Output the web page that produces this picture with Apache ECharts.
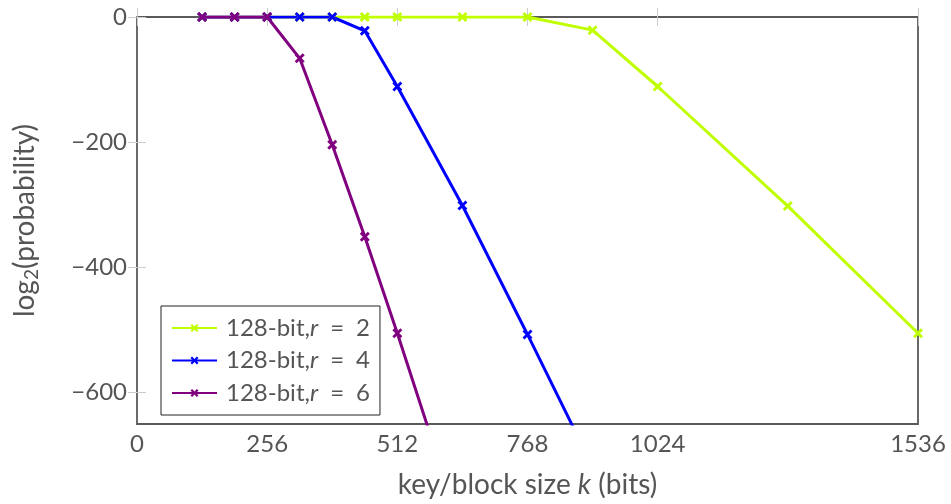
<!DOCTYPE html>
<html><head><meta charset="utf-8">
<script src="https://cdn.jsdelivr.net/npm/echarts@6/dist/echarts.min.js"></script>
<style>html,body{margin:0;padding:0;background:#fff}#c{width:951px;height:504px}</style>
</head><body><div id="c"></div>
<script>
// ---- data ----
const r2X = [128,192,256,320,384,448,512,640,768,896,1024,1280,1536];
const r2Y = [0,0,0,0,0,0,0,0,0,-21,-111,-302,-505];
const r4X = [128,192,256,320,384,448,512,640,768,896];
const r4Y = [0,0,0,0,0,-22,-111,-301,-507,-718];
const r6X = [128,192,256,320,384,448,512,576];
const r6Y = [0,0,0,-66,-204,-351,-505,-665];
const seriesNames = ['128-bit, r = 2','128-bit, r = 4','128-bit, r = 6'];
const xTicks = [0,256,512,768,1024,1536];
const yTicks = [0,-200,-400,-600];

const pair = (xs, ys) => xs.map((x,i)=>[x, ys[i]]);
const TXT = '#555555';
const FONT = 'Lato';
const crossPath = 'path://M0,2 L2,0 L5,3 L8,0 L10,2 L7,5 L10,8 L8,10 L5,7 L2,10 L0,8 L3,5 Z';
const colors = ['#bfff00','#0000ff','#800080'];
const fmtMinus = v => String(v).replace('-', '\u2212');

const mk = (name, data, color) => ({
  name, type:'line', data, symbol: crossPath, symbolSize: 10,
  lineStyle:{color, width:3}, itemStyle:{color}, emphasis:{disabled:true},
  animation:false
});

const chart = echarts.init(document.getElementById('c'), null, {renderer:'canvas'});
chart.setOption({
  animation:false,
  textStyle:{fontFamily:FONT},
  grid:{left:137, right:33, top:17, bottom:77, show:true, borderColor:'#5a5a5a', borderWidth:1.8},
  xAxis:[{
    type:'value', min:0, max:1536, position:'bottom',
    axisLine:{show:false},
    axisTick:{show:true, inside:true, length:9, lineStyle:{color:'#cccccc', width:1}, customValues:xTicks},
    axisLabel:{customValues:xTicks, color:TXT, fontSize:24, fontFamily:FONT, margin:8, formatter:v=>String(v)},
    splitLine:{show:false},
    name:'key/block size {i|k} (bits)', nameLocation:'middle', nameGap:47,
    nameTextStyle:{color:TXT, fontSize:28, fontFamily:FONT, rich:{i:{fontStyle:'italic', color:TXT, fontSize:28, fontFamily:FONT}}}
  },{
    type:'value', min:0, max:1536, position:'top',
    axisLine:{show:false},
    axisTick:{show:true, inside:true, length:9, lineStyle:{color:'#cccccc', width:1}, customValues:xTicks},
    axisLabel:{show:false}, splitLine:{show:false}
  }],
  yAxis:[{
    type:'value', min:-650, max:0, position:'left',
    axisLine:{show:false},
    axisTick:{show:true, inside:true, length:9, lineStyle:{color:'#cccccc', width:1}, customValues:yTicks},
    axisLabel:{customValues:yTicks, color:TXT, fontSize:24, fontFamily:FONT, margin:10, formatter:fmtMinus},
    splitLine:{show:false},
    name:'log{s|2}(probability)', nameLocation:'middle', nameRotate:90, nameGap:96,
    nameTextStyle:{color:TXT, fontSize:28, fontFamily:FONT, rich:{s:{fontSize:19, color:TXT, fontFamily:FONT, verticalAlign:'bottom', padding:[14,0,0,0]}}}
  },{
    type:'value', min:-650, max:0, position:'right',
    axisLine:{show:false},
    axisTick:{show:true, inside:true, length:9, lineStyle:{color:'#cccccc', width:1}, customValues:yTicks},
    axisLabel:{show:false}, splitLine:{show:false}
  }],
  legend:{
    orient:'vertical', left:161, top:306, padding:[9,10,9,10], itemGap:6.5,
    itemWidth:45, itemHeight:10,
    backgroundColor:'#fff', borderColor:'#222', borderWidth:1, borderRadius:0,
    data:seriesNames,
    formatter: n => n.replace(', r = ', ',{i|r}\u2002=\u2002'),
    textStyle:{color:TXT, fontSize:24, fontFamily:FONT, lineHeight:26, padding:[0,0,0,4],
      rich:{i:{fontStyle:'italic', color:TXT, fontSize:24, fontFamily:FONT, lineHeight:26}}}
  },
  series:[
    mk(seriesNames[0], pair(r2X, r2Y), colors[0]),
    mk(seriesNames[1], pair(r4X, r4Y), colors[1]),
    mk(seriesNames[2], pair(r6X, r6Y), colors[2])
  ]
});
</script></body></html>
